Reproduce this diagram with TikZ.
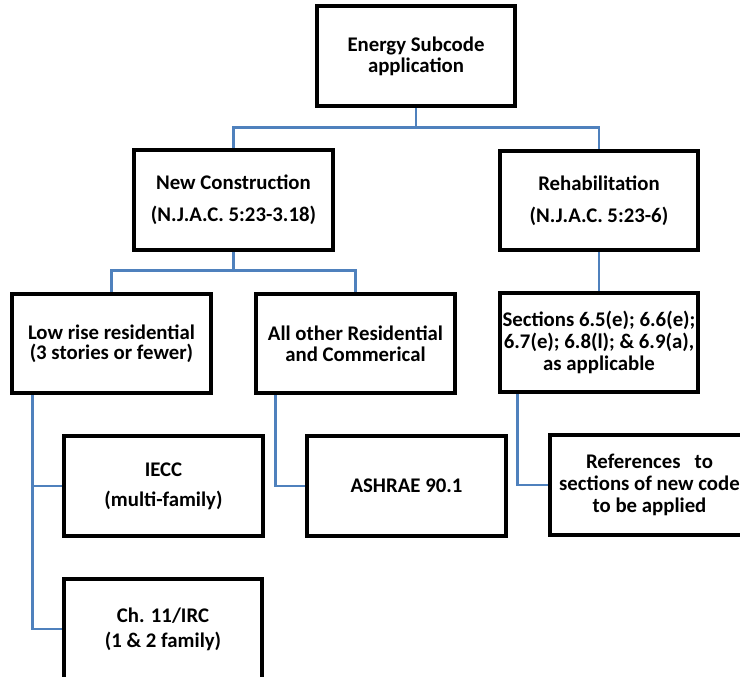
\documentclass[tikz,border=0pt]{standalone}
\usepackage{fontspec}
\setmainfont{Carlito}
\usetikzlibrary{calc,backgrounds}
\definecolor{connblue}{HTML}{4F81BD}
\begin{document}
\begin{tikzpicture}[x=0.75pt,y=-0.75pt,
  box/.style={draw=black,line width=3.2pt,fill=white,minimum width=149pt,minimum height=74.5pt,
    inner sep=0pt,align=center,font=\bfseries\fontsize{15.6}{15.8}\selectfont},
  conn/.style={draw=connblue,line width=2.2pt}]
\useasboundingbox (0,0) rectangle (740,677);
\clip (0,0) rectangle (740,677);
\node[box] (top) at (416,56) {Energy Subcode\\application};
\node[box] (nc) at (233.5,200) {New Construction\\[8pt](N.J.A.C. 5:23-3.18)};
\node[box] (rehab) at (599,200.5) {Rehabilitation\\[8pt](N.J.A.C. 5:23-6)};
\node[box] (low) at (111.5,343.5) {Low rise residential\\[-0.5pt](3 stories or fewer)};
\node[box] (other) at (355.5,343.5) {All other Residential\\and Commerical};
\node[box] (sect) at (599,342.5) {Sections 6.5(e); 6.6(e);\\[1pt]6.7(e); 6.8(l); \& 6.9(a),\\[1pt]as applicable};
\node[box] (iecc) at (163.5,486) {IECC\\[6.5pt](multi-family)};
\node[box] (ashrae) at (406.5,486) {ASHRAE 90.1};
\node[box] (refs) at (649.5,485) {References~~ to\\[0.5pt]sections of new code\\[0.5pt]to be applied};
\node[box] (ch11) at (163,629) {Ch. 11/IRC\\[3pt](1 \& 2 family)};
\coordinate (j1) at ($(top.south)+(0,20)$);
\coordinate (j2) at ($(nc.south)+(0,19)$);
\begin{scope}[on background layer]
\draw[conn] (top.south) -- (j1);
\draw[conn] (j1) -| (nc.north);
\draw[conn] (j1) -| (rehab.north);
\draw[conn] (nc.south) -- (j2);
\draw[conn] (j2) -| (low.north);
\draw[conn] (j2) -| (other.north);
\draw[conn] (rehab.south) -- (sect.north);
\draw[conn] ($(low.south west)+(22,0)$) |- (iecc.west);
\draw[conn] ($(low.south west)+(22,0)$) |- (ch11.west);
\draw[conn] ($(other.south west)+(21,0)$) |- (ashrae.west);
\draw[conn] ($(sect.south west)+(20,0)$) |- (refs.west);
\end{scope}
\end{tikzpicture}
\end{document}
